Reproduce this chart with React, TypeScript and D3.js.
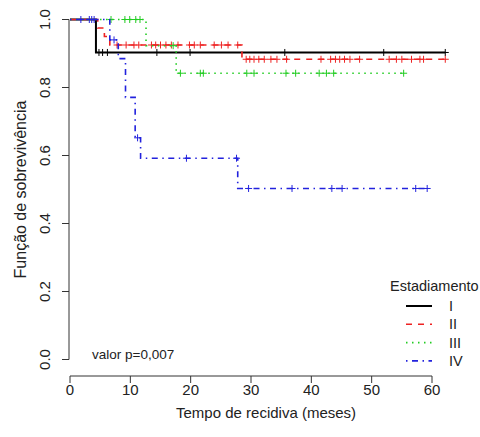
import React from "react";
import * as d3 from "d3";

// ---- data ----
const groupNames = ["I", "II", "III", "IV"];

const stepTimesI = [0, 4.3];
const stepSurvI = [1, 0.903];
const endI = 62.2;
const censorI = [4.8, 5.4, 6.2, 14.4, 19.9, 35.6, 52.0, 62.2];

const stepTimesII = [0, 4.6, 5.7, 6.6, 28.5];
const stepSurvII = [1, 0.975, 0.95, 0.925, 0.883];
const endII = 62.2;
const censorII = [7.8, 9.3, 10.6, 11.4, 13.5, 14.2, 15.0, 15.9, 16.8, 17.9, 19.8, 20.6, 21.6, 23.9, 25.1, 26.2, 27.8,
  29.2, 29.8, 30.5, 31.3, 32.2, 33.3, 34.3, 35.9, 41.6, 43.2, 44.0, 44.7, 45.5, 46.4, 48.0, 52.9, 54.1, 55.0, 56.6, 58.0, 58.6, 62.2];

const stepTimesIII = [0, 12.6, 17.6];
const stepSurvIII = [1, 0.923, 0.842];
const endIII = 55.3;
const censorIII = [6.8, 9.1, 9.9, 10.9, 11.6, 17.1, 18.3, 21.6, 22.1, 29.3, 30.5, 35.8, 37.4, 41.3, 42.5, 43.7, 55.3];

const stepTimesIV = [0, 6.6, 8.0, 9.2, 10.8, 11.7, 27.8];
const stepSurvIV = [1, 0.94, 0.885, 0.771, 0.652, 0.592, 0.503];
const endIV = 59.2;
const censorIV = [1.8, 3.2, 3.6, 4.0, 7.3, 11.2, 19.3, 27.6, 29.6, 36.8, 43.4, 45.1, 57.3, 59.2];

const xTicks = [0, 10, 20, 30, 40, 50, 60];
const yTicks = [0, 0.2, 0.4, 0.6, 0.8, 1.0];

const xTitle = "Tempo de recidiva (meses)";
const yTitle = "Função de sobrevivência";
const legendTitle = "Estadiamento";
const pText = "valor p=0,007";

// ---- styles ----
const colors = ["#000000", "#ee2222", "#22cc22", "#2222dd"];
const dashes = ["", "6,6", "1.5,4.5", "1.5,4.5,6,4.5"];
const widths = [2, 1.6, 1.6, 1.6];

const W = 480;
const H = 437;
const x = d3.scaleLinear().domain([0, 60]).range([70, 432]);
const y = d3.scaleLinear().domain([0, 1]).range([359.5, 19.5]);
const font = "Liberation Sans, Arial, sans-serif";
const axisY = 376;
const plotRightMonths = 65;

type Group = { t: number[]; s: number[]; end: number; cens: number[] };
const groups: Group[] = [
  { t: stepTimesI, s: stepSurvI, end: endI, cens: censorI },
  { t: stepTimesII, s: stepSurvII, end: endII, cens: censorII },
  { t: stepTimesIII, s: stepSurvIII, end: endIII, cens: censorIII },
  { t: stepTimesIV, s: stepSurvIV, end: endIV, cens: censorIV },
];

function survAt(g: Group, t: number) {
  let v = 1;
  for (let i = 0; i < g.t.length; i++) if (g.t[i] <= t) v = g.s[i];
  return v;
}

function pathFor(g: Group) {
  const pts: [number, number][] = g.t.map((t, i) => [t, g.s[i]]);
  pts.push([g.end, g.s[g.s.length - 1]]);
  const line = d3
    .line<[number, number]>()
    .x((d) => x(d[0]))
    .y((d) => y(d[1]))
    .curve(d3.curveStepAfter);
  return line(pts) || "";
}

export default function App() {
  const axisCol = "#333";
  const ax = x(0) - 1;
  return (
    <svg
      width={W}
      height={H}
      style={{ position: "absolute", left: 0, top: 0, background: "#fff" }}
      fontFamily={font}
    >
      {/* y axis */}
      <line x1={ax} x2={ax} y1={y(0)} y2={y(1)} stroke={axisCol} strokeWidth={1} />
      {yTicks.map((v) => (
        <g key={v}>
          <line x1={ax - 7} x2={ax} y1={y(v)} y2={y(v)} stroke={axisCol} />
          <text
            transform={`translate(${50},${y(v)}) rotate(-90)`}
            textAnchor="middle"
            fontSize={15}
            fill="#222"
          >
            {v.toFixed(1)}
          </text>
        </g>
      ))}
      <text
        transform={`translate(${26},${(y(0) + y(1)) / 2}) rotate(-90)`}
        textAnchor="middle"
        fontSize={16}
        fill="#222"
      >
        {yTitle}
      </text>

      {/* x axis */}
      <line x1={x(0)} x2={x(60)} y1={axisY} y2={axisY} stroke={axisCol} />
      {xTicks.map((v) => (
        <g key={v}>
          <line x1={x(v)} x2={x(v)} y1={axisY} y2={axisY + 7} stroke={axisCol} />
          <text x={x(v)} y={395} textAnchor="middle" fontSize={15} fill="#222">
            {v}
          </text>
        </g>
      ))}
      <text x={(x(0) + x(plotRightMonths)) / 2} y={418} textAnchor="middle" fontSize={15} fill="#222">
        {xTitle}
      </text>

      {/* curves */}
      {groups.map((g, i) => (
        <g key={i}>
          <path
            d={pathFor(g)}
            fill="none"
            stroke={colors[i]}
            strokeWidth={widths[i]}
            strokeDasharray={dashes[i] || undefined}
          />
          {g.cens.map((c, j) => {
            const cx = x(c);
            const cy = y(survAt(g, c));
            return (
              <path
                key={j}
                d={`M${cx - 3.5},${cy}H${cx + 3.5}M${cx},${cy - 3.5}V${cy + 3.5}`}
                stroke={colors[i]}
                strokeWidth={1}
              />
            );
          })}
        </g>
      ))}

      {/* p-value */}
      <text x={92} y={359} fontSize={13.5} fill="#222">
        {pText}
      </text>

      {/* legend */}
      <text x={390} y={291} fontSize={14.5} fill="#222">
        {legendTitle}
      </text>
      {groupNames.map((n, i) => {
        const yy = 306 + i * 18.3;
        return (
          <g key={n}>
            <line
              x1={406}
              x2={432}
              y1={yy}
              y2={yy}
              stroke={colors[i]}
              strokeWidth={widths[i]}
              strokeDasharray={dashes[i] || undefined}
            />
            <text x={449} y={yy + 5} fontSize={14.5} fill="#222">
              {n}
            </text>
          </g>
        );
      })}
    </svg>
  );
}
